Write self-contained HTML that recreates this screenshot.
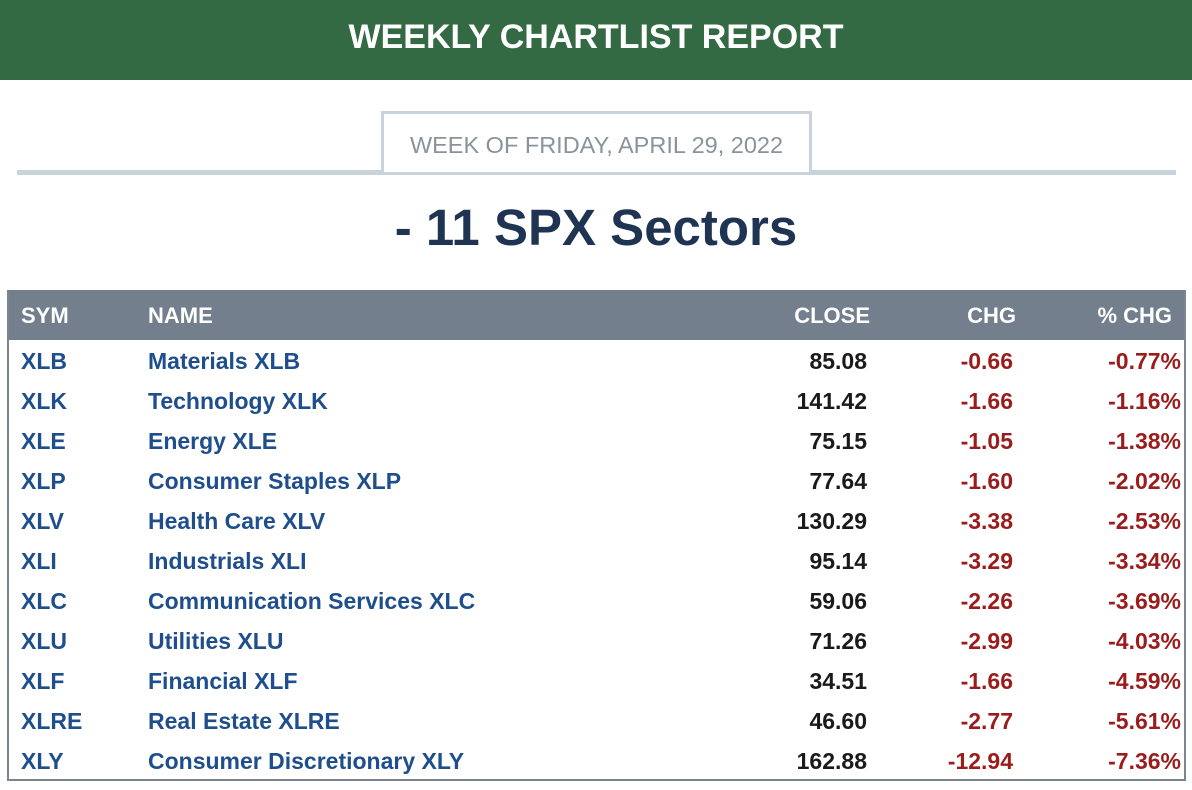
<!DOCTYPE html>
<html><head><meta charset="utf-8"><style>
body{margin:0;width:1192px;height:790px;background:#fff;font-family:"Liberation Sans",sans-serif;position:relative;overflow:hidden}
.banner{position:absolute;left:0;top:0;width:1192px;height:80px;background:#336a43;color:#fff;font-weight:bold;font-size:34px;text-align:center;line-height:74px}
.rule{position:absolute;left:17px;top:170px;width:1159px;height:5px;background:#c8d3dc}
.date{position:absolute;left:381px;top:111px;width:425px;height:58px;border:3px solid #c8d3dc;border-bottom:none;background:#fff;color:#8a939c;font-size:23.5px;text-align:center;line-height:62px}
h1{position:absolute;left:0;width:1192px;top:197px;margin:0;text-align:center;font-size:51px;color:#1f3352;line-height:62px}
.tbl{position:absolute;left:7px;top:290px;width:1175px;height:489px;border:2px solid #7a8590;border-top:none}
.hdr{position:absolute;left:0;top:0;width:1175px;height:50px;background:#737f8c}
.c{position:absolute;font-size:23px;font-weight:bold;white-space:nowrap}
</style></head><body>
<div class="banner">WEEKLY CHARTLIST REPORT</div>
<div class="rule"></div>
<div class="date">WEEK OF FRIDAY, APRIL 29, 2022</div>
<h1>- 11 SPX Sectors</h1>
<div class="tbl" id="tbl">
<div class="hdr"></div>
</div>
<script>
const syms=["XLB","XLK","XLE","XLP","XLV","XLI","XLC","XLU","XLF","XLRE","XLY"];
const names=["Materials XLB","Technology XLK","Energy XLE","Consumer Staples XLP","Health Care XLV","Industrials XLI","Communication Services XLC","Utilities XLU","Financial XLF","Real Estate XLRE","Consumer Discretionary XLY"];
const closes=["85.08","141.42","75.15","77.64","130.29","95.14","59.06","71.26","34.51","46.60","162.88"];
const chgs=["-0.66","-1.66","-1.05","-1.60","-3.38","-3.29","-2.26","-2.99","-1.66","-2.77","-12.94"];
const pcts=["-0.77%","-1.16%","-1.38%","-2.02%","-2.53%","-3.34%","-3.69%","-4.03%","-4.59%","-5.61%","-7.36%"];
const t=document.getElementById('tbl');
function cell(txt,x,y,align,color,name,inter,fs){
  const d=document.createElement('div');
  d.className='c';d.textContent=txt;d.style.color=color;d.style.top=(y-12)+'px';
  if(fs){d.style.fontSize=fs+'px';}
  if(align==='r'){d.style.right=(1175-x)+'px';}else{d.style.left=x+'px';}
  
  
  t.appendChild(d);
}
const hc='#ffffff';
cell('SYM',12,25,'l',hc,'sym-header','false',22);
cell('NAME',139,25,'l',hc,'name-header','false',22);
cell('CLOSE',861,25,'r',hc,'close-header','false',22);
cell('CHG',1007,25,'r',hc,'chg-header','false',22);
cell('% CHG',1163,25,'r',hc,'pct-chg-header','false',22);
syms.forEach((s,i)=>{
  const y=70+i*40;
  cell(s,12,y,'l','#1f4e8c','symbol-link','true');
  cell(names[i],139,y,'l','#1f4e8c','sector-name-link','true');
  cell(closes[i],858,y,'r','#1a1a1a','close-value','false');
  cell(chgs[i],1004,y,'r','#9a1c1c','change-value','false');
  cell(pcts[i],1172,y,'r','#9a1c1c','pct-change-value','false');
});
</script>
</body></html>
